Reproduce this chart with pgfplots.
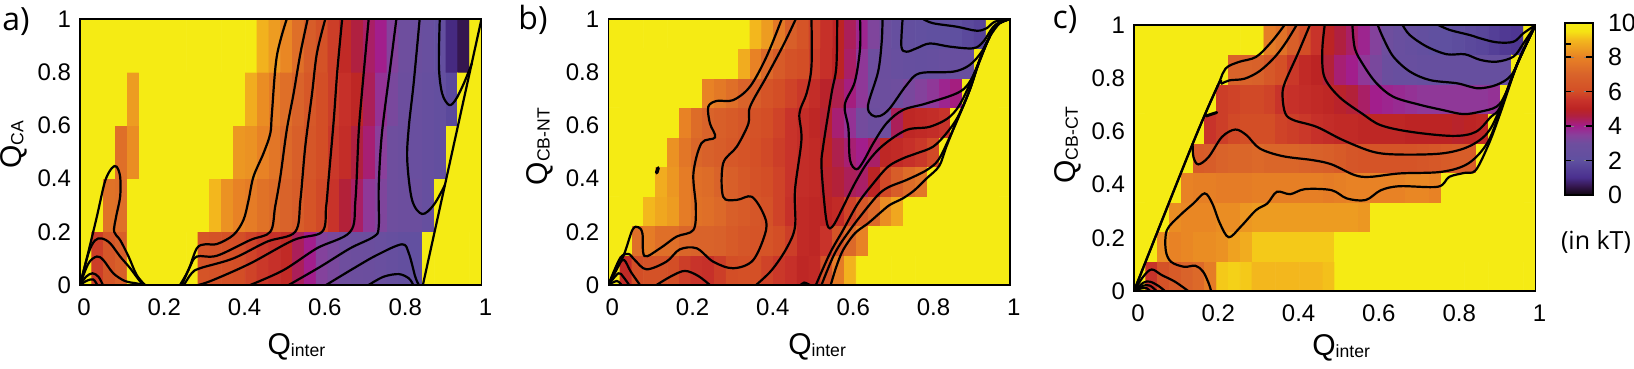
\documentclass[border=0pt]{standalone}
\usepackage{fontspec}
\setmainfont{Liberation Sans}
\newfontfamily\lab{Open Sans}
\usepackage{pgfplots}
\usepackage{pgfplotstable}
\pgfplotsset{compat=1.18}

% free energy per cell, one row of 34 bins per line, bottom row first
\pgfplotstableread[row sep=\\]{c\\
10\\5.7\\6.4\\6.8\\10\\10\\10\\10\\10\\10\\6.3\\6.2\\6.1\\6.0\\5.8\\5.6\\5.4\\5.2\\4.4\\4.0\\3.4\\3.2\\3.0\\2.9\\2.8\\2.7\\2.5\\2.3\\2.2\\10\\10\\10\\10\\10\\
10\\10\\7.5\\7.4\\10\\10\\10\\10\\10\\10\\10\\9.0\\8.3\\8.0\\7.8\\7.5\\7.3\\7.0\\6.7\\6.3\\5.9\\5.5\\4.7\\4.3\\3.6\\3.3\\3.0\\2.9\\2.8\\2.5\\10\\10\\10\\10\\
10\\10\\10\\7.4\\8.2\\10\\10\\10\\10\\10\\10\\10\\10\\8.4\\8.3\\8.0\\7.6\\7.2\\6.8\\6.4\\6.0\\5.6\\5.3\\4.6\\4.2\\3.5\\3.0\\2.8\\2.7\\2.5\\2.3\\10\\10\\10\\
10\\10\\10\\10\\8.5\\10\\10\\10\\10\\10\\10\\10\\10\\10\\8.8\\8.2\\7.8\\7.4\\7.0\\6.5\\6.0\\5.7\\5.4\\5.1\\4.4\\3.7\\3.2\\2.9\\2.7\\2.5\\2.3\\1.8\\10\\10\\
10\\10\\10\\10\\10\\10\\10\\10\\10\\10\\10\\10\\10\\10\\10\\8.9\\8.5\\8.1\\7.4\\6.7\\6.2\\5.7\\5.2\\4.6\\4.3\\4.0\\3.4\\3.0\\2.8\\2.6\\2.3\\0.9\\0.5\\10\\
}\tabA
\pgfplotstableread[row sep=\\]{c\\
10\\5.2\\6.0\\6.2\\6.2\\6.0\\5.7\\5.5\\5.4\\5.7\\6.0\\6.1\\6.1\\5.8\\5.6\\5.4\\5.1\\5.2\\6.2\\7.8\\8.9\\10\\10\\10\\10\\10\\10\\10\\10\\10\\10\\10\\10\\10\\
10\\10\\7.4\\7.8\\7.4\\7.4\\7.1\\7.0\\7.0\\6.9\\6.6\\6.4\\6.3\\6.3\\6.0\\5.7\\5.2\\5.1\\5.5\\6.3\\7.2\\8.0\\10\\10\\10\\10\\10\\10\\10\\10\\10\\10\\10\\10\\
10\\10\\10\\9.0\\8.7\\8.5\\7.8\\7.5\\7.4\\7.2\\6.8\\6.6\\6.4\\6.2\\5.8\\5.4\\5.2\\5.1\\5.0\\5.2\\5.8\\6.5\\7.2\\8.2\\8.7\\10\\10\\10\\10\\10\\10\\10\\10\\10\\
10\\10\\10\\10\\8.8\\8.4\\7.8\\7.4\\7.3\\7.0\\6.8\\6.5\\6.2\\6.0\\5.8\\5.5\\5.3\\5.2\\4.9\\4.7\\4.4\\4.3\\5.0\\5.9\\6.7\\7.3\\7.6\\10\\10\\10\\10\\10\\10\\10\\
10\\10\\10\\10\\10\\8.3\\7.6\\7.1\\6.9\\6.7\\6.5\\6.3\\6.1\\5.9\\5.7\\5.5\\5.3\\5.2\\5.0\\4.5\\4.2\\4.0\\4.3\\5.1\\5.2\\5.4\\5.6\\5.9\\10\\10\\10\\10\\10\\10\\
10\\10\\10\\10\\10\\10\\8.0\\7.3\\7.0\\6.8\\6.6\\6.4\\6.2\\6.0\\5.8\\5.5\\5.3\\5.1\\4.8\\4.2\\3.7\\3.1\\2.9\\3.0\\4.4\\5.1\\5.2\\5.3\\5.5\\10\\10\\10\\10\\10\\
10\\10\\10\\10\\10\\10\\10\\10\\8.0\\7.7\\7.4\\7.0\\6.7\\6.3\\6.0\\5.8\\5.6\\5.3\\4.9\\4.5\\4.1\\3.6\\3.0\\2.9\\3.0\\3.2\\3.4\\3.6\\3.9\\4.1\\10\\10\\10\\10\\
10\\10\\10\\10\\10\\10\\10\\10\\10\\10\\10\\8.8\\8.0\\7.2\\6.6\\6.2\\6.0\\5.7\\5.4\\5.0\\4.3\\3.6\\3.0\\2.8\\2.6\\2.5\\2.4\\2.5\\2.6\\2.6\\2.6\\10\\10\\10\\
10\\10\\10\\10\\10\\10\\10\\10\\10\\10\\10\\10\\9.0\\8.5\\7.7\\6.8\\6.3\\5.8\\5.4\\5.0\\4.4\\3.9\\3.3\\2.8\\2.5\\2.3\\2.2\\2.1\\2.1\\2.0\\1.8\\1.6\\10\\10\\
}\tabB
\pgfplotstableread[row sep=\\]{c\\
10\\5.5\\6.2\\6.6\\7.0\\7.2\\7.8\\9.2\\9.3\\9.2\\9.0\\9.0\\9.0\\9.0\\9.0\\9.0\\9.1\\10\\10\\10\\10\\10\\10\\10\\10\\10\\10\\10\\10\\10\\10\\10\\10\\10\\
10\\10\\8.2\\8.0\\8.1\\8.2\\8.2\\8.3\\8.6\\8.8\\9.2\\9.2\\9.2\\9.2\\9.2\\9.2\\9.2\\10\\10\\10\\10\\10\\10\\10\\10\\10\\10\\10\\10\\10\\10\\10\\10\\10\\
10\\10\\10\\8.2\\8.1\\8.1\\8.1\\8.2\\8.2\\8.4\\8.5\\8.5\\8.5\\8.5\\8.5\\8.5\\8.5\\8.5\\8.5\\8.4\\10\\10\\10\\10\\10\\10\\10\\10\\10\\10\\10\\10\\10\\10\\
10\\10\\10\\10\\8.0\\7.9\\7.9\\7.8\\7.8\\7.8\\7.9\\7.9\\7.9\\7.9\\7.9\\7.9\\7.8\\7.9\\8.0\\8.0\\8.0\\8.0\\8.0\\8.1\\8.1\\8.0\\10\\10\\10\\10\\10\\10\\10\\10\\
10\\10\\10\\10\\10\\6.6\\6.7\\7.0\\7.1\\7.1\\7.2\\7.1\\7.1\\7.1\\7.0\\6.9\\6.8\\6.6\\6.4\\6.3\\6.3\\6.3\\6.3\\6.3\\6.4\\6.5\\6.6\\6.7\\6.7\\10\\10\\10\\10\\10\\
10\\10\\10\\10\\10\\10\\5.5\\5.7\\5.9\\6.0\\6.0\\6.0\\5.8\\5.7\\5.6\\5.4\\5.3\\5.2\\5.2\\5.1\\5.1\\5.1\\5.1\\5.0\\5.0\\5.0\\5.0\\4.9\\5.0\\5.1\\10\\10\\10\\10\\
10\\10\\10\\10\\10\\10\\10\\5.7\\5.8\\5.9\\5.9\\5.8\\5.5\\5.4\\5.3\\5.2\\5.1\\4.9\\4.7\\4.3\\4.0\\3.9\\3.8\\3.7\\3.6\\3.6\\3.6\\3.6\\3.6\\3.6\\3.7\\10\\10\\10\\
10\\10\\10\\10\\10\\10\\10\\10\\7.0\\7.0\\6.9\\6.5\\6.1\\5.6\\5.2\\5.0\\4.7\\4.2\\4.0\\3.6\\3.2\\2.8\\2.6\\2.6\\2.5\\2.5\\2.5\\2.5\\2.5\\2.5\\2.5\\2.5\\10\\10\\
10\\10\\10\\10\\10\\10\\10\\10\\10\\10\\10\\7.8\\7.5\\6.8\\6.0\\5.5\\5.0\\4.6\\4.3\\3.9\\3.4\\3.0\\2.7\\2.5\\2.3\\2.1\\2.0\\1.9\\1.8\\1.7\\1.5\\1.3\\1.2\\10\\
}\tabC

\pgfplotsset{
  colormap={kT}{
    rgb255(0cm)=(16,5,16) rgb255(0.5cm)=(53,23,79) rgb255(1cm)=(74,47,142)
    rgb255(2cm)=(95,80,160) rgb255(3cm)=(110,78,158) rgb255(3.5cm)=(138,63,155)
    rgb255(4cm)=(162,30,140) rgb255(4.6cm)=(176,32,64) rgb255(5cm)=(188,36,36)
    rgb255(5.5cm)=(200,51,42) rgb255(6cm)=(211,78,38) rgb255(7cm)=(217,99,42)
    rgb255(8cm)=(232,130,37) rgb255(9cm)=(243,183,29) rgb255(9.5cm)=(245,227,20)
    rgb255(10cm)=(245,235,20)},
  heat/.style={
    scale only axis, width=200.75pt, height=133pt,
    xmin=0, xmax=1, ymin=0, ymax=1,
    point meta min=0, point meta max=10,
    axis on top,
    axis line style={line width=0.7pt},
    major tick length=0pt,
    xtick={0,0.2,0.4,0.6,0.8,1}, ytick={0,0.2,0.4,0.6,0.8,1},
    xticklabels={0,0.2,0.4,0.6,0.8,1},
    yticklabels={0,0.2,0.4,0.6,0.8,1},
    ticklabel style={font=\fontsize{12}{12}\selectfont},
    xticklabel style={yshift=-3.5pt,xshift=2pt},
    yticklabel style={xshift=-1pt},
  },
  cl/.style={black, line width=1.1pt, smooth, tension=0.55, no markers, forget plot},
}
\newcommand\Ql[1]{{\fontsize{15}{15}\selectfont Q}{\fontsize{8.8}{9}\selectfont\raisebox{-1pt}{#1}}}

\begin{document}
\begin{tikzpicture}
\path[use as bounding box] (0,0) rectangle (817pt,184.5pt);

% a)
\begin{axis}[heat, at={(40pt,42pt)},
  xlabel={\Ql{inter}}, ylabel={\Ql{CA}},
  xlabel style={at={(axis description cs:0.539,-0.233)},anchor=center},
  ylabel style={at={(axis description cs:-0.165,0.526)},anchor=center,rotate=0}]
% column and row of a cell from its place in the table; the 0.5 keeps floor off exact multiples
\addplot[matrix plot*,mesh/cols=34,point meta=explicit,forget plot] table[x index=0,y index=0,x expr={((\coordindex+0.5)-34*floor((\coordindex+0.5)/34))/34},y expr={(floor((\coordindex+0.5)/34)+0.5)/5},meta=c] {\tabA};
\addplot[cl] coordinates {(0,0)(.018,.107)(.042,.257)(.062,.388)(.079,.439)(.091,.445)(.1,.407)(.1,.332)(.09,.257)(.085,.2)(.1,.169)(.121,.107)(.141,.038)(.162,0)};
\addplot[cl] coordinates {(0,0)(.021,.119)(.037,.167)(.054,.175)(.075,.157)(.1,.107)(.125,.063)(.15,.013)(.162,0)};
\addplot[cl] coordinates {(0,0)(.021,.081)(.042,.107)(.058,.094)(.083,.044)(.112,.015)(.141,.006)(.158,0)};
\addplot[cl] coordinates {(0,0)(.015,.031)(.031,.044)(.046,.031)(.057,0)};
\addplot[cl] coordinates {(0,0)(.017,.016)(.033,.021)(.043,0)};
\addplot[cl] coordinates {(.249,0)(.27,.056)(.291,.138)(.312,.153)(.341,.154)(.382,.188)(.407,.244)(.42,.32)(.432,.407)(.457,.495)(.474,.57)(.478,.645)(.49,.858)(.515,1)};
\addplot[cl] coordinates {(.254,0)(.274,.069)(.291,.107)(.341,.11)(.424,.169)(.474,.2)(.486,.294)(.499,.407)(.515,.583)(.532,.72)(.549,.871)(.567,1)};
\addplot[cl] coordinates {(.259,0)(.278,.044)(.299,.063)(.382,.1)(.466,.163)(.536,.2)(.549,.32)(.561,.52)(.578,.72)(.59,.871)(.611,1)};
\addplot[cl] coordinates {(.295,0)(.332,.019)(.424,.081)(.532,.169)(.603,.2)(.613,.294)(.619,.395)(.632,.62)(.641,.807)(.653,1)};
\addplot[cl] coordinates {(.424,0)(.507,.056)(.59,.138)(.673,.2)(.686,.319)(.694,.57)(.702,.72)(.719,1)};
\addplot[cl] coordinates {(.52,0)(.599,.069)(.673,.138)(.732,.182)(.744,.219)(.744,.37)(.752,.57)(.773,.821)(.788,1)};
\addplot[cl] coordinates {(.613,0)(.682,.063)(.74,.113)(.802,.153)(.819,.119)(.835,.031)(.844,0)};
\addplot[cl] coordinates {(.719,0)(.756,.031)(.794,.041)(.819,.025)(.83,0)};
\addplot[cl] coordinates {(.846,1)(.831,.758)(.819,.595)(.815,.47)(.827,.32)(.852,.267)(.881,.301)(.909,.376)};
\addplot[cl] coordinates {(.896,1)(.894,.821)(.902,.72)(.919,.677)(.935,.695)(.956,.758)(.976,.833)};
\addplot[black,line width=1.1pt,no markers,forget plot] coordinates {(.854,0)(1,1)};
\end{axis}

% b)
\begin{axis}[heat, at={(304.15pt,42pt)},
  xlabel={\Ql{inter}}, ylabel={\Ql{CB-NT}},
  xlabel style={at={(axis description cs:0.52,-0.233)},anchor=center},
  ylabel style={at={(axis description cs:-0.17,0.52)},anchor=center,rotate=0}]
\addplot[matrix plot*,mesh/cols=34,point meta=explicit,forget plot] table[x index=0,y index=0,x expr={((\coordindex+0.5)-34*floor((\coordindex+0.5)/34))/34},y expr={(floor((\coordindex+0.5)/34)+0.5)/9},meta=c] {\tabB};
\addplot[cl] coordinates {(0,0)(.037,.107)(.06,.207)(.075,.217)(.085,.194)(.09,.109)(.129,.138)(.17,.182)(.212,.207)(.218,.294)(.212,.42)(.232,.533)(.266,.555)(.253,.608)(.249,.67)(.27,.692)(.311,.695)(.353,.746)(.394,.858)(.432,1)};
\addplot[cl] coordinates {(0,0)(.029,.1)(.05,.117)(.066,.094)(.095,.059)(.145,.088)(.178,.134)(.22,.138)(.261,.088)(.311,.063)(.361,.094)(.393,.207)(.386,.269)(.357,.332)(.32,.32)(.286,.332)(.286,.457)(.32,.52)(.349,.607)(.353,.67)(.394,.783)(.436,.902)(.467,1)};
\addplot[cl] coordinates {(0,0)(.022,.069)(.039,.094)(.056,.05)(.079,0)};
\addplot[cl] coordinates {(.12,0)(.158,.034)(.191,.053)(.224,.034)(.253,0)};
\addplot[cl] coordinates {(0,0)(.025,.044)(.037,.031)(.052,0)};
\addplot[cl] coordinates {(0,0)(.021,.015)(.033,0)};
\addplot[cl] coordinates {(.368,0)(.407,.056)(.444,.138)(.465,.219)(.465,.357)(.481,.545)(.476,.645)(.494,.721)(.506,.821)(.506,1)};
\addplot[cl] coordinates {(.479,0)(.488,.009)(.502,0)};
\addplot[cl] coordinates {(.57,1)(.568,.821)(.556,.72)(.535,.52)(.531,.445)(.539,.294)(.545,.23)(.552,.213)(.564,.232)(.585,.294)(.614,.382)(.647,.464)(.685,.526)(.743,.583)(.801,.595)(.851,.633)(.884,.702)(.925,.846)(.946,.921)(.967,.977)(1,1)};
\addplot[cl] coordinates {(.627,1)(.627,.89)(.614,.764)(.589,.677)(.598,.589)(.602,.47)(.618,.435)(.635,.464)(.66,.533)(.693,.608)(.734,.658)(.793,.683)(.876,.727)(.91,.79)(.946,.921)(.967,.977)(1,1)};
\addplot[cl] coordinates {(.683,1)(.681,.915)(.672,.802)(.647,.677)(.656,.639)(.676,.635)(.701,.664)(.743,.752)(.776,.796)(.859,.802)(.9,.827)(.93,.877)(.95,.934)(.975,.984)(1,1)};
\addplot[cl] coordinates {(.733,1)(.73,.896)(.743,.877)(.768,.89)(.801,.908)(.851,.896)(.909,.89)(.934,.915)(.963,.977)(1,1)};
\addplot[cl] coordinates {(.784,1)(.809,.984)(.868,.971)(.917,.956)(.942,.965)(.963,.99)(1,1)};
\addplot[cl] coordinates {(.517,0)(.552,.119)(.585,.207)(.622,.307)(.66,.382)(.697,.445)(.734,.476)(.768,.495)(.809,.52)(.842,.57)(.871,.633)(.9,.733)(.925,.846)(.946,.921)(.967,.977)(1,1)};
\addplot[cl] coordinates {(.531,0)(.564,.119)(.602,.207)(.647,.295)(.676,.345)(.701,.37)(.743,.395)(.793,.432)(.822,.47)(.847,.545)(.875,.64)(.9,.733)(.925,.846)(.946,.921)(.967,.977)(1,1)};
\addplot[cl] coordinates {(.554,0)(.568,.069)(.585,.132)(.614,.194)(.647,.232)(.676,.27)(.701,.301)(.734,.326)(.763,.357)(.793,.401)(.824,.447)(.842,.52)(.867,.614)(.9,.733)(.925,.846)(.946,.921)(.967,.977)(1,1)};
\addplot[black,line width=1.8pt,line cap=round,no markers,forget plot] coordinates {(.1205,.422)(.124,.44)};
\end{axis}

% c)
\begin{axis}[heat, at={(567pt,39pt)},
  xlabel={\Ql{inter}}, ylabel={\Ql{CB-CT}},
  xlabel style={at={(axis description cs:0.516,-0.214)},anchor=center},
  ylabel style={at={(axis description cs:-0.164,0.549)},anchor=center,rotate=0},
  colorbar,
  colorbar style={at={(1.0735,1.0086)},anchor=north west,width=14pt,height=86pt,
    ytick={0,2,4,6,8,10}, yticklabels={0,2,4,6,8,10},
    yticklabel pos=right,
    axis line style={line width=1.2pt},
    yticklabel style={font=\fontsize{12.5}{12.5}\selectfont,xshift=4pt}}]
\addplot[matrix plot*,mesh/cols=34,point meta=explicit,forget plot] table[x index=0,y index=0,x expr={((\coordindex+0.5)-34*floor((\coordindex+0.5)/34))/34},y expr={(floor((\coordindex+0.5)/34)+0.5)/9},meta=c] {\tabC};
\addplot[cl] coordinates {(0,0)(.143,.542)(.209,.773)(.228,.836)(.261,.861)(.304,.88)(.342,.936)(.375,1)};
\addplot[cl] coordinates {(0,0)(.143,.542)(.209,.773)(.219,.78)(.238,.792)(.275,.798)(.313,.827)(.351,.88)(.379,.936)(.405,1)};
\addplot[cl] coordinates {(.192,0)(.186,.029)(.172,.073)(.153,.095)(.125,.091)(.092,.11)(.079,.154)(.082,.229)(.115,.285)(.148,.329)(.176,.367)(.195,.329)(.214,.254)(.236,.202)(.266,.242)(.304,.304)(.332,.329)(.356,.373)(.389,.364)(.426,.383)(.492,.379)(.53,.348)(.577,.342)(.615,.379)(.662,.394)(.757,.392)(.785,.429)(.823,.444)(.851,.454)(.884,.554)(.912,.667)(.955,.855)(1,1)};
\addplot[cl] coordinates {(.146,.554)(.148,.504)(.16,.476)(.186,.504)(.219,.579)(.252,.607)(.28,.586)(.313,.536)(.37,.507)(.445,.492)(.492,.476)(.549,.436)(.587,.429)(.662,.442)(.766,.448)(.832,.479)(.879,.554)(.91,.667)(.955,.855)(1,1)};
\addplot[cl] coordinates {(.438,1)(.408,.892)(.375,.78)(.37,.73)(.377,.667)(.398,.642)(.455,.617)(.521,.567)(.596,.523)(.662,.513)(.766,.517)(.832,.542)(.879,.592)(.91,.68)(.955,.855)(1,1)};
\addplot[cl] coordinates {(.475,1)(.469,.905)(.474,.805)(.511,.73)(.568,.667)(.615,.623)(.691,.598)(.794,.583)(.851,.598)(.889,.655)(.912,.692)(.955,.855)(1,1)};
\addplot[cl] coordinates {(.544,1)(.55,.912)(.571,.85)(.604,.781)(.646,.73)(.712,.7)(.77,.68)(.82,.665)(.862,.674)(.903,.693)(.925,.74)(.955,.855)(1,1)};
\addplot[cl] coordinates {(.607,1)(.621,.95)(.646,.881)(.687,.825)(.737,.793)(.804,.781)(.837,.768)(.862,.762)(.903,.775)(.94,.812)(.97,.906)(1,1)};
\addplot[cl] coordinates {(.669,1)(.687,.962)(.729,.919)(.779,.89)(.824,.89)(.862,.869)(.903,.862)(.945,.881)(.97,.931)(1,1)};
\addplot[cl] coordinates {(.758,1)(.787,.981)(.837,.962)(.862,.95)(.903,.935)(.945,.937)(.97,.969)(1,1)};
\addplot[cl] coordinates {(0,0)(.023,.054)(.044,.081)(.069,.06)(.102,.035)(.135,0)};
\addplot[cl] coordinates {(0,0)(.023,.031)(.04,.035)(.061,.019)(.077,0)};
\addplot[cl] coordinates {(0,0)(.023,.02)(.04,.02)(.056,0)};
\addplot[cl] coordinates {(0,0)(.019,.01)(.032,.01)(.04,0)};
\addplot[black,line width=1.5pt,line cap=round,no markers,forget plot] coordinates {(.18,.658)(.206,.671)};
\end{axis}

% inward ticks of the colour bar
\foreach \t in {104.25,121.5,138.7,156}{
  \draw[black,line width=0.8pt] (782.5pt,\t pt) -- (785.5pt,\t pt);
  \draw[black,line width=0.8pt] (793pt,\t pt) -- (796.5pt,\t pt);
}
\draw[black,line width=0.8pt] (782.5pt,162.5pt) -- (785.5pt,162.5pt);
\node[font=\lab\fontsize{16}{16}\selectfont] at (8pt,173.5pt) {a)};
\node[font=\lab\fontsize{16}{16}\selectfont] at (266.5pt,174.5pt) {b)};
\node[font=\lab\fontsize{16}{16}\selectfont] at (532.5pt,174.5pt) {c)};
\node[font=\lab\fontsize{12.5}{12.5}\selectfont] at (798pt,63.5pt) {(in kT)};
\end{tikzpicture}
\end{document}
